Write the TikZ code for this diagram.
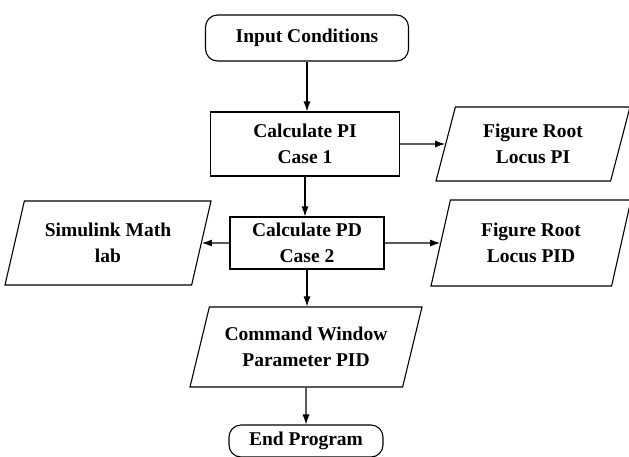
\documentclass[tikz,border=0pt]{standalone}
\usepackage{fontspec}
\setmainfont{Liberation Serif}
\usetikzlibrary{shapes.geometric,arrows.meta}

\begin{document}
\begin{tikzpicture}
        [
            x = 1pt, y = -1pt,
            every node/.style = {font=\fontsize{19.5}{26}\selectfont\bfseries, align=center, inner sep=0pt},
            terminal/.style = {draw, line width=1.1pt, rounded corners=12pt, minimum width=154pt, minimum height=32pt},
            process/.style = {draw, line width=1.1pt, rectangle},
            data/.style = {draw, line width=1.1pt, trapezium, trapezium left angle=64, trapezium right angle=116, trapezium stretches body},
            flow/.style = {-{Latex[length=10pt,width=7pt]}, line width=1.1pt}
        ]
        \useasboundingbox (0,0) rectangle (629,456);

        \node[terminal, minimum width=203pt, minimum height=46pt] (start) at (307,38) {Input Conditions};
        \node[process, minimum width=189pt, minimum height=64pt] (calcpi) at (305,144) {Calculate PI\\Case 1};
        \node[data, minimum width=194pt, minimum height=74pt] (figpi) at (533,144) {Figure Root\\Locus PI};
        \node[process, minimum width=154pt, minimum height=52pt] (calcpd) at (307,243) {Calculate PD\\Case 2};
        \node[data, minimum width=206pt, minimum height=84pt] (simlab) at (108,243) {Simulink Math\\lab};
        \node[data, minimum width=200pt, minimum height=86pt] (figpid) at (531,243) {Figure Root\\Locus PID};
        \node[data, minimum width=232pt, minimum height=80pt] (cmdwin) at (306,347) {Command Window\\Parameter PID};
        \node[terminal] (finish) at (306,441) {End Program};

        \draw[flow] (start) -- (start |- calcpi.north);
        \draw[flow] (calcpi) -- (figpi);
        \draw[flow] (calcpi) -- (calcpi |- calcpd.north);
        \draw[flow] (calcpd) -- (simlab);
        \draw[flow] (calcpd) -- (figpid);
        \draw[flow] (calcpd) -- (calcpd |- cmdwin.north);
        \draw[flow] (cmdwin) -- (cmdwin |- finish.north);
\end{tikzpicture}
\end{document}
